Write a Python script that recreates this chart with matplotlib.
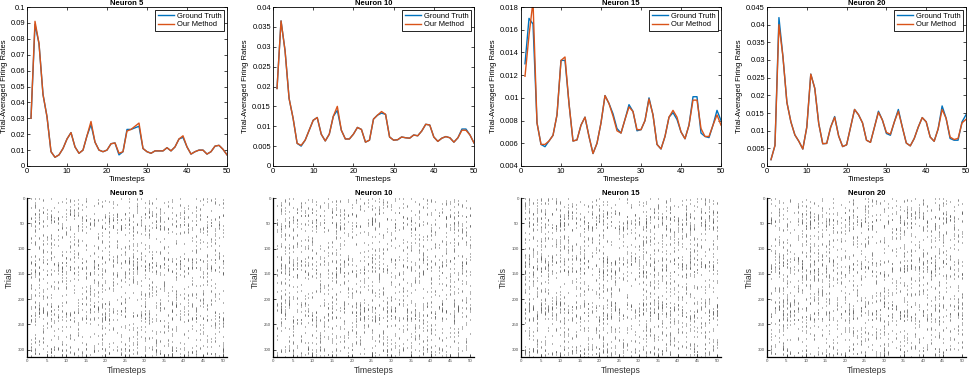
import numpy as np
import matplotlib

matplotlib.use('Agg')
import matplotlib.pyplot as plt
from matplotlib.ticker import FuncFormatter

plt.rcParams['font.family'] = ['Liberation Sans', 'DejaVu Sans']

# trial-averaged firing rates, timesteps 1..50
timesteps = np.arange(1, 51)
neurons = [5, 10, 15, 20]

gt_5 = [0.030, 0.089, 0.077, 0.045, 0.031, 0.009, 0.0055, 0.007, 0.011, 0.017,
        0.021, 0.012, 0.008, 0.010, 0.019, 0.026, 0.015, 0.010, 0.009, 0.010,
        0.014, 0.0145, 0.007, 0.009, 0.023, 0.023, 0.024, 0.025, 0.011, 0.009,
        0.008, 0.0095, 0.0095, 0.0095, 0.0115, 0.0095, 0.012, 0.017, 0.018, 0.012,
        0.0075, 0.009, 0.010, 0.010, 0.0075, 0.009, 0.0125, 0.013, 0.0105, 0.007]
ours_5 = [0.030, 0.091, 0.077, 0.045, 0.031, 0.009, 0.0055, 0.007, 0.011, 0.017,
          0.021, 0.012, 0.008, 0.010, 0.019, 0.028, 0.015, 0.010, 0.009, 0.010,
          0.014, 0.0145, 0.008, 0.009, 0.022, 0.023, 0.025, 0.027, 0.011, 0.009,
          0.008, 0.0095, 0.0095, 0.0095, 0.0115, 0.0095, 0.012, 0.017, 0.019, 0.012,
          0.0075, 0.009, 0.010, 0.010, 0.0075, 0.009, 0.0125, 0.013, 0.0105, 0.007]

gt_10 = [0.0195, 0.0365, 0.029, 0.017, 0.012, 0.0057, 0.0050, 0.0065, 0.009, 0.0115,
         0.0122, 0.008, 0.0063, 0.008, 0.0125, 0.014, 0.009, 0.0068, 0.0068, 0.008,
         0.0097, 0.0092, 0.006, 0.0065, 0.0118, 0.0128, 0.0133, 0.013, 0.0073, 0.0065,
         0.0066, 0.0073, 0.0071, 0.007, 0.0078, 0.0076, 0.0088, 0.0105, 0.0103, 0.0073,
         0.0062, 0.007, 0.0074, 0.0071, 0.006, 0.0071, 0.0093, 0.0093, 0.0078, 0.0058]
ours_10 = [0.0195, 0.0365, 0.029, 0.017, 0.012, 0.0057, 0.0052, 0.0065, 0.009, 0.0115,
           0.0122, 0.008, 0.0063, 0.008, 0.0125, 0.015, 0.009, 0.0068, 0.0068, 0.008,
           0.0097, 0.0092, 0.006, 0.0065, 0.0118, 0.0128, 0.0137, 0.013, 0.0073, 0.0065,
           0.0066, 0.0073, 0.0071, 0.007, 0.0078, 0.0076, 0.0088, 0.0105, 0.0103, 0.0073,
           0.0062, 0.007, 0.0074, 0.0071, 0.006, 0.0071, 0.009, 0.009, 0.0078, 0.0058]

gt_15 = [0.0130, 0.0170, 0.0165, 0.0078, 0.0059, 0.0057, 0.0062, 0.0067, 0.0085, 0.0133,
         0.0133, 0.0095, 0.0062, 0.0063, 0.0076, 0.0083, 0.0066, 0.0051, 0.0060, 0.0078,
         0.0102, 0.0095, 0.0086, 0.0073, 0.0069, 0.0081, 0.0094, 0.0088, 0.0071, 0.0072,
         0.0080, 0.0100, 0.0085, 0.0059, 0.0055, 0.0066, 0.0083, 0.0087, 0.0081, 0.0070,
         0.0064, 0.0076, 0.0101, 0.0101, 0.0069, 0.0066, 0.0065, 0.0076, 0.0089, 0.0080]
ours_15 = [0.0119, 0.0155, 0.0185, 0.0078, 0.0059, 0.0059, 0.0062, 0.0067, 0.0085, 0.0133,
           0.0136, 0.0095, 0.0062, 0.0063, 0.0076, 0.0083, 0.0066, 0.0051, 0.0060, 0.0078,
           0.0102, 0.0095, 0.0084, 0.0071, 0.0069, 0.0081, 0.0092, 0.0088, 0.0072, 0.0072,
           0.0080, 0.0099, 0.0085, 0.0059, 0.0055, 0.0066, 0.0083, 0.0089, 0.0083, 0.0070,
           0.0064, 0.0076, 0.0098, 0.0098, 0.0073, 0.0066, 0.0066, 0.0076, 0.0085, 0.0076]

gt_20 = [0.0018, 0.0058, 0.042, 0.031, 0.018, 0.0125, 0.0088, 0.007, 0.0048, 0.011,
         0.026, 0.022, 0.012, 0.0063, 0.0064, 0.011, 0.014, 0.0085, 0.0055, 0.006,
         0.011, 0.016, 0.0145, 0.0122, 0.0073, 0.0067, 0.011, 0.0155, 0.013, 0.0092,
         0.0087, 0.0125, 0.016, 0.011, 0.0065, 0.0057, 0.0078, 0.011, 0.0137, 0.0125,
         0.0082, 0.007, 0.0105, 0.017, 0.0135, 0.0078, 0.0073, 0.0073, 0.0125, 0.0145]
ours_20 = [0.0018, 0.0058, 0.040, 0.031, 0.018, 0.0125, 0.0088, 0.007, 0.0048, 0.011,
           0.026, 0.022, 0.012, 0.0063, 0.0064, 0.011, 0.0138, 0.0085, 0.0055, 0.006,
           0.011, 0.016, 0.0145, 0.0122, 0.0073, 0.0067, 0.011, 0.0152, 0.013, 0.0095,
           0.009, 0.0125, 0.0155, 0.011, 0.0065, 0.0057, 0.0078, 0.011, 0.0137, 0.0125,
           0.0082, 0.007, 0.0105, 0.016, 0.0135, 0.0082, 0.0075, 0.0078, 0.0122, 0.0132]

ground_truth = [gt_5, gt_10, gt_15, gt_20]
our_method = [ours_5, ours_10, ours_15, ours_20]

# y-axis limits / tick step of the top panels
ylims = [(0, 0.1), (0, 0.04), (0.004, 0.018), (0, 0.045)]
ysteps = [0.01, 0.005, 0.002, 0.005]

n_trials = 313

BLUE = '#0072BD'
ORANGE = '#D95319'


def spike_texture(rates, seed):
    # individual spikes are not readable in the picture, so the raster is a
    # deterministic stipple whose column density follows the rate curve
    def h(a, b, c):
        x = np.sin(a * 12.9898 + b * 78.233 + c * 37.719 + seed * 4.1414) * 43758.5453
        return x - np.floor(x)

    rates = np.asarray(rates)
    p_col = 0.16 + 0.22 * rates / rates.max()
    xs, ys = [], []
    trials = np.arange(1, n_trials + 1)
    for t, p in zip(timesteps, p_col):
        block = trials // 3
        active = h(t, block, 1.0) < p
        keep = h(t, trials, 2.0) < 0.6
        lone = h(t, trials, 3.0) < 0.07
        sel = (active & keep) | lone
        ys.extend(trials[sel])
        xs.extend([t] * int(sel.sum()))
    return np.array(xs), np.array(ys)


fig = plt.figure(figsize=(9.72, 3.75), dpi=100)
W, H = 972.0, 375.0
lefts = [27, 273, 521, 767]
widths = [200, 201, 200, 199]

for i, nid in enumerate(neurons):
    # top: trial averaged firing rates
    ax = fig.add_axes([lefts[i] / W, 1 - 166 / H, widths[i] / W, 159 / H])
    ax.plot(timesteps, ground_truth[i], color=BLUE, lw=1.0, label='Ground Truth')
    ax.plot(timesteps, our_method[i], color=ORANGE, lw=1.0, label='Our Method')
    ax.set_xlim(0, 50)
    lo, hi = ylims[i]
    ax.set_ylim(lo, hi)
    ax.set_xticks(np.arange(0, 51, 10))
    ax.set_yticks(np.arange(lo, hi + ysteps[i] / 2, ysteps[i]))
    ax.yaxis.set_major_formatter(FuncFormatter(lambda v, p: '%g' % round(v, 4)))
    ax.tick_params(direction='in', length=2.5, width=0.5, labelsize=5.4,
                   top=True, right=True, pad=1.5)
    for s in ax.spines.values():
        s.set_linewidth(0.6)
    ax.set_title('Neuron %d' % nid, fontsize=5.5, fontweight='bold', pad=1.5)
    ax.set_xlabel('Timesteps', fontsize=5.8, labelpad=1)
    ax.set_ylabel('Trial-Averaged Firing Rates', fontsize=5.5, labelpad=2)
    leg = ax.legend(loc='upper right', fontsize=5.4, handlelength=2.2,
                    borderpad=0.3, labelspacing=0.2, handletextpad=0.4,
                    fancybox=False, framealpha=1, borderaxespad=0.4)
    leg.get_frame().set_edgecolor('black')
    leg.get_frame().set_linewidth(0.6)

    # bottom: spike raster
    ax2 = fig.add_axes([lefts[i] / W, 1 - 357 / H, widths[i] / W, 159 / H])
    xs, ys = spike_texture(our_method[i], nid)
    ax2.vlines(xs, ys - 0.7, ys + 0.7, color='0.3', lw=0.6)
    ax2.set_xlim(0, 51)
    ax2.set_ylim(n_trials + 1.5, 0)
    ax2.set_xticks(np.arange(0, 51, 5))
    ax2.set_yticks(np.arange(0, 301, 50))
    ax2.tick_params(direction='in', length=2, width=0.5, labelsize=3.2, pad=1.5,
                    labelcolor='0.3')
    ax2.spines['top'].set_visible(False)
    ax2.spines['right'].set_visible(False)
    ax2.spines['left'].set_linewidth(0.9)
    ax2.spines['bottom'].set_linewidth(0.9)
    ax2.set_title('Neuron %d' % nid, fontsize=5.5, fontweight='bold', pad=2)
    ax2.set_xlabel('Timesteps', fontsize=6.2, labelpad=2, color='0.2')
    ax2.set_ylabel('Trials', fontsize=6.2, labelpad=3, color='0.2')

fig.savefig('out.png', dpi=100)
plt.close(fig)
